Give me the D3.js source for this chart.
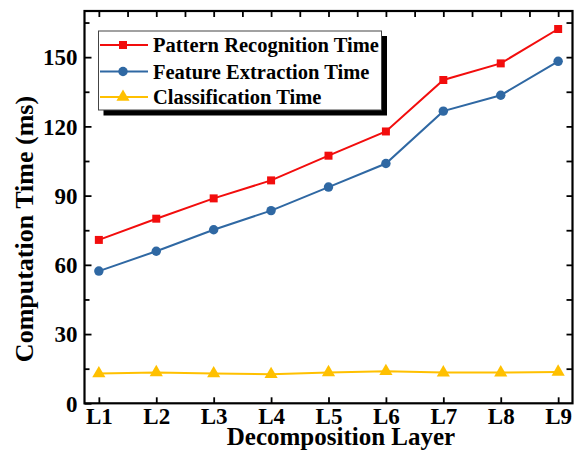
<!DOCTYPE html>
<html><head><meta charset="utf-8">
<script src="https://cdn.jsdelivr.net/npm/d3@7"></script>
<style>
html,body{margin:0;padding:0;background:#fff;}
svg text{font-family:"Liberation Serif","Times New Roman",serif;font-weight:bold;fill:#000;}
</style></head>
<body>
<svg id="chart" width="581" height="451"></svg>
<script>
const categories = ["L1","L2","L3","L4","L5","L6","L7","L8","L9"];
const patternRecognition = [70.8, 80.0, 88.8, 96.6, 107.3, 117.8, 140.1, 147.3, 162.2];
const featureExtraction = [57.3, 65.9, 75.2, 83.5, 93.7, 103.9, 126.6, 133.5, 148.2];
const classification = [12.9, 13.4, 12.9, 12.6, 13.4, 13.9, 13.3, 13.3, 13.6];
const yTicks = [0, 30, 60, 90, 120, 150];
const yMinorTicks = [15, 45, 75, 105, 135, 165];
const seriesNames = ["Pattern Recognition Time", "Feature Extraction Time", "Classification Time"];
const seriesColors = ["#f20d0d", "#2f68a3", "#ffc000"];
const xTitle = "Decomposition Layer";
const yTitle = "Computation Time (ms)";

const svg = d3.select("#chart");
const L = 84.5, R = 572.5, T = 11, B = 403.3;

const x = d3.scalePoint().domain(categories).range([L, R]).padding(0.25);
const y = d3.scaleLinear().domain([0, 170]).range([B, T]);

// axes
const bottom = d3.axisBottom(x).tickSizeInner(-6).tickSizeOuter(0).tickPadding(4);
const gB = svg.append("g").attr("transform", `translate(0,${B})`).call(bottom);
gB.selectAll("text").style("font-size", "23px").attr("dy", "0.71em");

const left = d3.axisLeft(y).tickValues(yTicks).tickSizeInner(-7).tickSizeOuter(0).tickPadding(7);
const gL = svg.append("g").attr("transform", `translate(${L},0)`).call(left);
gL.selectAll("text").style("font-size", "23px").attr("dy", "0.34em");
svg.append("g").attr("transform", `translate(${L},0)`)
  .call(d3.axisLeft(y).tickValues(yMinorTicks.filter(v=>v<170)).tickSizeInner(-5).tickSizeOuter(0).tickFormat(""));

const right = d3.axisRight(y).tickValues(yTicks.concat(yMinorTicks).filter(v=>v>0 && v<170)).tickSizeInner(-6).tickSizeOuter(0).tickFormat("");
svg.append("g").attr("transform", `translate(${R},0)`).call(right);

const step = x.step();
const topTicks = [];
categories.forEach((c,i)=>{ topTicks.push({v:x(c), major:true}); if(i<categories.length-1) topTicks.push({v:x(c)+step/2, major:false}); });
const xLin = d3.scaleLinear().domain([L,R]).range([L,R]);
svg.append("g").attr("transform", `translate(0,${T})`)
  .call(d3.axisTop(xLin).tickValues(topTicks.map(d=>d.v)).tickSizeInner(-6).tickSizeOuter(0).tickFormat(""));

svg.selectAll(".domain").remove();
svg.selectAll(".tick line").attr("stroke", "#000").attr("stroke-width", 1.8);

// frame
svg.append("rect").attr("x", L).attr("y", T).attr("width", R-L).attr("height", B-T)
  .attr("fill", "none").attr("stroke", "#000").attr("stroke-width", 2.2);

// titles
svg.append("text").attr("x", 341).attr("y", 445).attr("text-anchor", "middle")
  .style("font-size", "25px").text(xTitle);
svg.append("text").attr("transform", "translate(33,229) rotate(-90)").attr("text-anchor", "middle")
  .style("font-size", "26px").text(yTitle);

// series
const allSeries = [patternRecognition, featureExtraction, classification];
const line = d3.line().x((d,i)=>x(categories[i])).y(d=>y(d));
const symbols = [d3.symbolSquare, d3.symbolCircle, d3.symbolTriangle];
const symSizes = [64, 70, 75];
allSeries.forEach((vals, si)=>{
  svg.append("path").datum(vals).attr("d", line).attr("fill", "none")
    .attr("stroke", seriesColors[si]).attr("stroke-width", 2);
  svg.append("g").selectAll("path").data(vals).join("path")
    .attr("transform", (d,i)=>`translate(${x(categories[i])},${y(d)})`)
    .attr("d", d3.symbol().type(symbols[si]).size(symSizes[si]))
    .attr("fill", seriesColors[si]);
});

// legend
const lg = svg.append("g");
lg.append("rect").attr("x", 103.5).attr("y", 36).attr("width", 283.5).attr("height", 79.5).attr("fill", "#000");
lg.append("rect").attr("x", 98.5).attr("y", 31).attr("width", 283).attr("height", 79)
  .attr("fill", "#fff").attr("stroke", "#444").attr("stroke-width", 1);
const rowY = [45, 71.5, 97];
seriesNames.forEach((n, si)=>{
  lg.append("line").attr("x1", 100).attr("x2", 148).attr("y1", rowY[si]).attr("y2", rowY[si])
    .attr("stroke", seriesColors[si]).attr("stroke-width", 2);
  lg.append("path").attr("transform", `translate(123,${rowY[si]})`)
    .attr("d", d3.symbol().type(symbols[si]).size(symSizes[si])).attr("fill", seriesColors[si]);
  lg.append("text").attr("x", 153).attr("y", rowY[si]).attr("dy", "0.35em")
    .style("font-size", "20.5px").text(n);
});
</script>
</body></html>
